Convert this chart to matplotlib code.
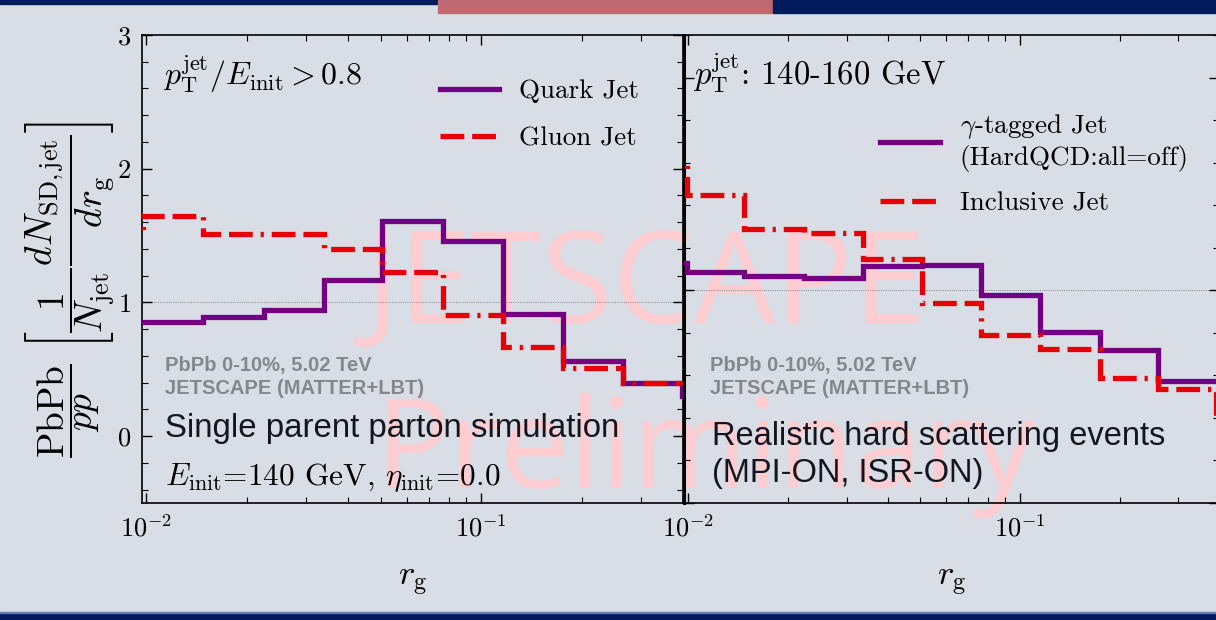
import matplotlib.pyplot as plt
from matplotlib.patches import Rectangle
from matplotlib.ticker import MultipleLocator, LogLocator, NullFormatter

plt.rcParams['mathtext.fontset'] = 'cm'
plt.rcParams['font.family'] = 'cmr10'
plt.rcParams['axes.formatter.use_mathtext'] = True

# r_g bin edges, the outermost ones sit just outside the drawn range
edges_single = [0.0065, 0.0098, 0.0148, 0.0224, 0.0338, 0.0506, 0.0768,
                0.1163, 0.1755, 0.2655, 0.398, 0.6]
quark_ratio = [0.85, 0.85, 0.89, 0.94, 1.17, 1.61, 1.46, 0.91, 0.56, 0.40, 0.30]
gluon_ratio = [1.51, 1.645, 1.515, 1.51, 1.40, 1.23, 0.905, 0.67, 0.51, 0.395, 0.395]

edges_hard = [0.0065, 0.0099, 0.0147, 0.0223, 0.0336, 0.0508, 0.0764,
              0.115, 0.174, 0.261, 0.39, 0.6]
gamma_ratio = [1.13, 1.086, 1.065, 1.06, 1.115, 1.12, 0.977, 0.805, 0.72, 0.572, 0.572]
incl_ratio = [1.6, 1.45, 1.29, 1.27, 1.148, 0.94, 0.79, 0.723, 0.586, 0.536, 0.40]

BG = '#d9dde5'
NAVY = '#001a5c'
PURPLE = '#720080'
RED = '#e60008'
GRAY = '#85878e'
PINK = '#fdcdd1'
DASH = (0, (4.5, 1.5, 4.5, 1.5, 0.6, 1.5))

W, H = 1216, 620
fig = plt.figure(figsize=(W / 100, H / 100), dpi=100, facecolor=BG)

# slide decoration
fig.add_artist(Rectangle((0, 1 - 4 / H), 438 / W, 4 / H, transform=fig.transFigure,
                         color=NAVY, zorder=-2))
fig.add_artist(Rectangle((438 / W, 1 - 13 / H), 335 / W, 13 / H, transform=fig.transFigure,
                         color='#c0686f', zorder=-2))
fig.add_artist(Rectangle((773 / W, 1 - 13 / H), 443 / W, 13 / H, transform=fig.transFigure,
                         color=NAVY, zorder=-2))
fig.add_artist(Rectangle((0, 0), 1, 7 / H, transform=fig.transFigure,
                         color=NAVY, zorder=-2))
fig.add_artist(Rectangle((0, 7 / H), 1, 1.5 / H, transform=fig.transFigure,
                         color='#5d7bb5', zorder=-2))

# watermark, behind the (transparent) axes
fig.text(364 / W, 1 - 323 / H, 'JETSCAPE', fontsize=93, family='Open Sans',
         color=PINK, zorder=-1)
fig.text(376 / W, 1 - 488 / H, 'Preliminary', fontsize=89, family='Open Sans',
         color=PINK, zorder=-1)

ax1 = fig.add_axes([142 / W, 1 - 503 / H, 541 / W, 468 / H])
ax2 = fig.add_axes([684 / W, 1 - 503 / H, 535.4 / W, 468 / H])

for ax in (ax1, ax2):
    ax.set_facecolor('none')
    ax.set_xscale('log')
    ax.set_xlim(0.0097, 0.4)
    ax.xaxis.set_major_locator(LogLocator(base=10))
    ax.xaxis.set_minor_locator(LogLocator(base=10, subs=range(2, 10)))
    ax.xaxis.set_minor_formatter(NullFormatter())
    ax.yaxis.set_major_locator(MultipleLocator(1))
    ax.yaxis.set_minor_locator(MultipleLocator(0.2))
    ax.tick_params(which='both', direction='in', top=True, right=True,
                   labelsize=19, pad=8)
    ax.tick_params(which='major', length=7, width=1.0)
    ax.tick_params(which='minor', length=4, width=0.8)
    for sp in ax.spines.values():
        sp.set_linewidth(1.2)
    ax.axhline(1, color='#666666', lw=0.6, ls=':', zorder=1)
    ax.text(0.5, -0.135, r'$r_{\mathrm{g}}$', transform=ax.transAxes,
            ha='center', va='top', fontsize=25)

ax1.set_ylim(-0.5, 3)
ax2.set_ylim(0, 2.2)
ax2.tick_params(labelleft=False)
ax2.spines['left'].set_linewidth(2.2)

# single parent parton panel
ax1.stairs(quark_ratio, edges_single, baseline=None, color=PURPLE, lw=3.8,
           label=r'Quark Jet', zorder=3)
ax1.stairs(gluon_ratio, edges_single, baseline=None, color=RED, lw=3.8,
           linestyle=DASH, label=r'Gluon Jet', zorder=3)
ax1.legend(loc='upper left', bbox_to_anchor=(0.55, 0.905), frameon=False,
           fontsize=19.5, handlelength=2.2, handletextpad=0.75, labelspacing=0.85,
           borderpad=0, borderaxespad=0)

ax1.text(0.039, 0.893, r'$p_{\mathrm{T}}^{\mathrm{jet}}/E_{\mathrm{init}} > 0.8$',
         transform=ax1.transAxes, fontsize=23, va='baseline')
ax1.text(0.0425, 0.293, 'PbPb 0-10%, 5.02 TeV', transform=ax1.transAxes,
         family='Liberation Sans', weight='bold', fontsize=14.5, color=GRAY, va='center')
ax1.text(0.0425, 0.244, 'JETSCAPE (MATTER+LBT)', transform=ax1.transAxes,
         family='Liberation Sans', weight='bold', fontsize=14.5, color=GRAY, va='center')
ax1.text(0.0425, 0.141, 'Single parent parton simulation', transform=ax1.transAxes,
         family='Liberation Sans', fontsize=23.8, color='#15151f', va='baseline')
ax1.text(0.0425, 0.038, r'$E_{\mathrm{init}}$=140 GeV, $\eta_{\mathrm{init}}$=0.0',
         transform=ax1.transAxes, fontsize=22.5, va='baseline')

# realistic hard scattering panel
ax2.stairs(gamma_ratio, edges_hard, baseline=None, color=PURPLE, lw=3.8,
           label='$\\gamma$-tagged Jet\n(HardQCD:all=off)', zorder=3)
ax2.stairs(incl_ratio, edges_hard, baseline=None, color=RED, lw=3.8,
           linestyle=DASH, label='Inclusive Jet', zorder=3)
ax2.legend(loc='upper left', bbox_to_anchor=(0.366, 0.835), frameon=False,
           fontsize=19.5, handlelength=2.2, handletextpad=0.75, labelspacing=0.7,
           borderpad=0, borderaxespad=0)

ax2.text(0.0168, 0.893, r'$p_{\mathrm{T}}^{\mathrm{jet}}$: 140-160 GeV',
         transform=ax2.transAxes, fontsize=23.5, va='baseline')
ax2.text(0.0486, 0.293, 'PbPb 0-10%, 5.02 TeV', transform=ax2.transAxes,
         family='Liberation Sans', weight='bold', fontsize=14.5, color=GRAY, va='center')
ax2.text(0.0486, 0.244, 'JETSCAPE (MATTER+LBT)', transform=ax2.transAxes,
         family='Liberation Sans', weight='bold', fontsize=14.5, color=GRAY, va='center')
ax2.text(0.052, 0.124, 'Realistic hard scattering events', transform=ax2.transAxes,
         family='Liberation Sans', fontsize=23.5, color='#15151f', va='baseline')
ax2.text(0.052, 0.045, '(MPI-ON, ISR-ON)', transform=ax2.transAxes,
         family='Liberation Sans', fontsize=23.5, color='#15151f', va='baseline')

fig.text(70 / W, 1 - 289 / H,
         r'$\dfrac{\mathrm{PbPb}}{pp}\ \left[\dfrac{1}{N_{\mathrm{jet}}}'
         r'\dfrac{dN_{\mathrm{SD,jet}}}{dr_{\mathrm{g}}}\right]$',
         rotation=90, ha='center', va='center', fontsize=27)

fig.savefig('out.png', dpi=100, facecolor=BG)
